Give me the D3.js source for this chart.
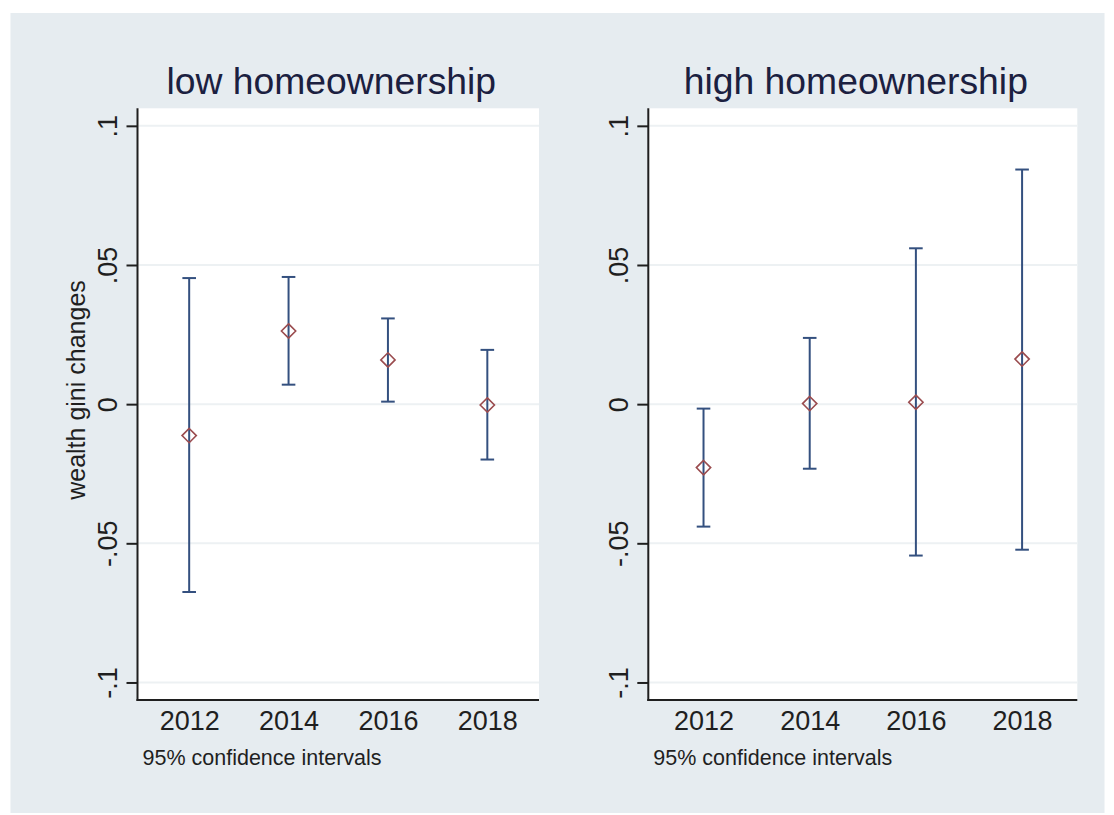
<!DOCTYPE html>
<html>
<head>
<meta charset="utf-8">
<script src="https://cdn.jsdelivr.net/npm/d3@7"></script>
<style>
  html, body { margin: 0; padding: 0; background: #ffffff; }
  svg { display: block; }
  text { font-family: "Liberation Sans", Arial, sans-serif; }
</style>
</head>
<body>
<svg id="chart" width="1114" height="815"></svg>
<script>
// ---- data ----
const years = [2012, 2014, 2016, 2018];
const panelTitles = ["low homeownership", "high homeownership"];
const lowEstimate = [-0.0113, 0.0263, 0.0159, -0.0003];
const lowLower    = [-0.0675, 0.0070, 0.0009, -0.0199];
const lowUpper    = [ 0.0453, 0.0457, 0.0308,  0.0195];
const highEstimate = [-0.0228, 0.0002, 0.0007, 0.0162];
const highLower    = [-0.0440, -0.0232, -0.0544, -0.0523];
const highUpper    = [-0.0016, 0.0238, 0.0560, 0.0843];
const yTicks = [-0.1, -0.05, 0, 0.05, 0.1];
const yTickLabels = ["-.1", "-.05", "0", ".05", ".1"];
const yAxisTitle = "wealth gini changes";
const footnote = "95% confidence intervals";

const panels = [
  { title: panelTitles[0], est: lowEstimate, lo: lowLower, hi: lowUpper, x0: 137.5, x1: 539 },
  { title: panelTitles[1], est: highEstimate, lo: highLower, hi: highUpper, x0: 648.3, x1: 1077.3 }
];

const svg = d3.select("#chart");
const plotTop = 108.3, plotBottom = 700;

// graph region background
svg.append("rect").attr("x", 10.5).attr("y", 13).attr("width", 1094).attr("height", 800)
  .attr("fill", "#e6ecf0");

const y = d3.scaleLinear().domain([-0.1063, 0.1063]).range([plotBottom, plotTop]);

const barColor = "#34507f";
const markColor = "#9a4b4e";
const inkColor = "#1f1f1f";

panels.forEach((p, pi) => {
  const x = d3.scaleLinear().domain([2010.96, 2019.04]).range([p.x0, p.x1]);
  const g = svg.append("g");

  // plot region
  g.append("rect").attr("x", p.x0).attr("y", plotTop)
    .attr("width", p.x1 - p.x0).attr("height", plotBottom - plotTop).attr("fill", "#ffffff");

  // gridlines
  g.selectAll("line.grid").data(yTicks).enter().append("line")
    .attr("class", "grid")
    .attr("x1", p.x0 + 1).attr("x2", p.x1)
    .attr("y1", d => y(d)).attr("y2", d => y(d))
    .attr("stroke", "#edf1f3").attr("stroke-width", 2);

  // y axis
  const yAxis = d3.axisLeft(y).tickValues(yTicks).tickSize(11).tickPadding(9)
    .tickFormat((d, i) => yTickLabels[i]);
  const ya = g.append("g").attr("transform", `translate(${p.x0},0)`).call(yAxis);
  ya.select(".domain").remove();
  ya.selectAll(".tick line").attr("stroke", inkColor).attr("stroke-width", 2);
  ya.selectAll(".tick text")
    .attr("font-size", 27).attr("fill", inkColor)
    .attr("x", null).attr("dy", null)
    .attr("text-anchor", "middle")
    .attr("transform", "translate(-20.5,0) rotate(-90)");
  g.append("line").attr("x1", p.x0).attr("x2", p.x0).attr("y1", plotTop).attr("y2", plotBottom + 1)
    .attr("stroke", inkColor).attr("stroke-width", 2);

  // x axis
  const xAxis = d3.axisBottom(x).tickValues(years).tickSize(0).tickPadding(0)
    .tickFormat(d3.format("d"));
  const xa = g.append("g").attr("transform", `translate(0,${plotBottom})`).call(xAxis);
  xa.select(".domain").remove();
  xa.selectAll(".tick text").attr("font-size", 27).attr("fill", inkColor)
    .attr("dy", null).attr("y", 30);
  g.append("line").attr("x1", p.x0 - 1).attr("x2", p.x1).attr("y1", plotBottom).attr("y2", plotBottom)
    .attr("stroke", inkColor).attr("stroke-width", 2);

  // error bars
  const rows = years.map((yr, i) => ({ yr, est: p.est[i], lo: p.lo[i], hi: p.hi[i] }));
  const eb = g.append("g");
  eb.selectAll("line.stem").data(rows).enter().append("line")
    .attr("x1", d => x(d.yr)).attr("x2", d => x(d.yr))
    .attr("y1", d => y(d.lo)).attr("y2", d => y(d.hi))
    .attr("stroke", barColor).attr("stroke-width", 2);
  eb.selectAll("line.capHi").data(rows).enter().append("line")
    .attr("x1", d => x(d.yr) - 6.8).attr("x2", d => x(d.yr) + 6.8)
    .attr("y1", d => y(d.hi)).attr("y2", d => y(d.hi))
    .attr("stroke", barColor).attr("stroke-width", 2);
  eb.selectAll("line.capLo").data(rows).enter().append("line")
    .attr("x1", d => x(d.yr) - 6.8).attr("x2", d => x(d.yr) + 6.8)
    .attr("y1", d => y(d.lo)).attr("y2", d => y(d.lo))
    .attr("stroke", barColor).attr("stroke-width", 2);

  // hollow diamond markers
  const diamond = d3.symbol().type(d3.symbolDiamond2).size(130);
  g.selectAll("path.pt").data(rows).enter().append("path")
    .attr("transform", d => `translate(${x(d.yr)},${y(d.est)})`)
    .attr("d", diamond)
    .attr("fill", "none").attr("stroke", markColor).attr("stroke-width", 1.6);

  // title
  g.append("text").attr("x", (p.x0 + p.x1) / 2 - 7).attr("y", 94.3)
    .attr("text-anchor", "middle").attr("font-size", 37.3).attr("fill", "#1b2040")
    .text(p.title);

  // footnote
  g.append("text").attr("x", p.x0 + 5).attr("y", 765)
    .attr("font-size", 21.5).attr("fill", inkColor).text(footnote);
});

// y axis title (left panel only)
svg.append("text")
  .attr("transform", "translate(85,390) rotate(-90)")
  .attr("text-anchor", "middle").attr("font-size", 25).attr("fill", inkColor)
  .text(yAxisTitle);
</script>
</body>
</html>
